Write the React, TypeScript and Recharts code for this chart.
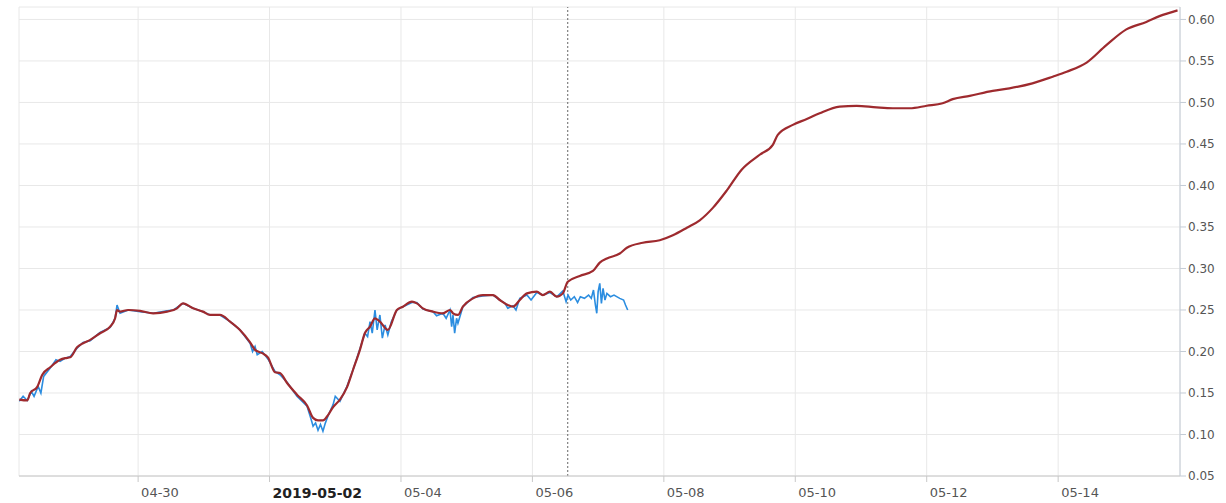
import React from "react";
import {
  CartesianGrid,
  Line,
  LineChart,
  ReferenceLine,
  XAxis,
  YAxis,
} from "recharts";

// hours since 2019-04-28 00:00
const redHours = [
  4.6, 7.5, 8.6, 11.1, 13, 15.9, 19.5, 21.4, 23.2, 25.7, 27.9, 30.5, 34.1, 37.8,
  39.6, 40.3, 41.4, 44.4, 48.7, 53.5, 58.6, 62.2, 64.4, 68.1, 71.7, 74.3, 77.9,
  81.6, 85.2, 88.9, 90.7, 93.3, 95.4, 98, 99.8, 102.4, 106, 109.7, 111.9, 113.7,
  115.5, 117.3, 119.2, 121.7, 124.3, 126.5, 129, 130.8, 132.7, 134.5, 136.3,
  139.2, 142.5, 144.7, 148, 149.8, 152, 155.7, 159.3, 161.9, 163, 164.8, 166.6,
  170.3, 173.9, 177.6, 180.1, 183, 184.9, 187.4, 190, 193.6, 195.8, 198.4,
  200.9, 203.1, 204.9, 209.3, 214.1, 216.6, 219.2, 223.9, 226.5, 232.3, 238.5,
  243.3, 248.4, 253.1, 257.9, 263, 268.4, 275, 279.8, 281.6, 287.1, 292.2,
  296.9, 304.2, 310.4, 317.7, 323.6, 329.8, 336, 341.8, 345.5, 351.7, 360.1,
  366.2, 374.6, 382, 387.1, 394.4, 401.6, 408.9, 416.2, 421, 427.6,
];
const redValues = [
  0.142, 0.141, 0.15, 0.157, 0.172, 0.181, 0.19, 0.192, 0.193, 0.205, 0.21,
  0.214, 0.222, 0.23, 0.24, 0.25, 0.248, 0.25, 0.249, 0.246, 0.248, 0.252,
  0.258, 0.252, 0.248, 0.244, 0.244, 0.236, 0.226, 0.211, 0.202, 0.198, 0.193,
  0.175, 0.174, 0.162, 0.148, 0.135, 0.12, 0.117, 0.117, 0.123, 0.133, 0.142,
  0.157, 0.178, 0.202, 0.222, 0.23, 0.24, 0.236, 0.226, 0.25, 0.254, 0.26,
  0.258, 0.252, 0.248, 0.246, 0.25, 0.246, 0.244, 0.254, 0.264, 0.268, 0.268,
  0.262, 0.256, 0.254, 0.262, 0.27, 0.272, 0.268, 0.272, 0.266, 0.27, 0.284,
  0.291, 0.297, 0.307, 0.312, 0.318, 0.325, 0.331, 0.334, 0.34, 0.349, 0.358,
  0.373, 0.394, 0.419, 0.437, 0.449, 0.461, 0.473, 0.48, 0.487, 0.495, 0.496,
  0.494, 0.493, 0.493, 0.496, 0.499, 0.504, 0.508, 0.514, 0.517, 0.523, 0.531,
  0.537, 0.548, 0.569, 0.588, 0.597, 0.604, 0.611,
];

const blueHours = [
  4.6, 6, 7.5, 9, 10, 11.5, 12.5, 13.5, 15.9, 18, 19.5, 21.4, 23.2, 25.7, 27.9,
  30.5, 34.1, 37.8, 39.6, 40.3, 41.4, 44.4, 48.7, 53.5, 58.6, 61, 62.2, 64.4,
  68.1, 71.7, 74.3, 77.9, 81.6, 85.2, 88.9, 89.8, 90.7, 91.5, 93.3, 95.4, 98,
  99.8, 102.4, 106, 109.7, 111.2, 111.9, 112.8, 113.7, 114.6, 115.5, 116.4,
  117.3, 119.2, 120, 121.7, 124.3, 126.5, 129, 130.8, 131.8, 132.7, 133.5,
  134.5, 135.3, 136.3, 137.2, 138.2, 139.2, 140.5, 142.5, 144.7, 148, 149.8,
  152, 155.7, 157, 159.3, 160.5, 161.9, 162.5, 163, 163.6, 164.3, 164.8, 166.6,
  170.3, 173.9, 177.6, 180.1, 182, 183, 184.9, 186, 187.4, 190, 191.5, 193.6,
  195.8, 198.4, 200.9, 203.1, 204.3, 205, 206, 207.3, 208.5, 209.5, 211, 212.5,
  213.5, 214.3, 215, 215.5, 216, 216.6, 217.2, 217.8, 218.5, 219.2, 220.5,
  221.8, 223.9, 225.3, 226, 226.8,
];
const blueValues = [
  0.14, 0.146, 0.141, 0.152, 0.146, 0.158, 0.15, 0.17, 0.18, 0.19, 0.188,
  0.192, 0.194, 0.204, 0.211, 0.213, 0.223, 0.229, 0.24, 0.256, 0.246, 0.25,
  0.248, 0.246, 0.249, 0.25, 0.253, 0.258, 0.252, 0.248, 0.244, 0.244, 0.236,
  0.226, 0.21, 0.2, 0.206, 0.196, 0.2, 0.191, 0.176, 0.172, 0.163, 0.146, 0.134,
  0.118, 0.11, 0.114, 0.105, 0.112, 0.104, 0.114, 0.122, 0.136, 0.146, 0.14,
  0.158, 0.178, 0.203, 0.222, 0.218, 0.236, 0.222, 0.25, 0.226, 0.244, 0.216,
  0.232, 0.22, 0.236, 0.25, 0.254, 0.259, 0.259, 0.251, 0.248, 0.243, 0.246,
  0.24, 0.25, 0.23, 0.244, 0.222, 0.24, 0.234, 0.254, 0.265, 0.267, 0.268,
  0.262, 0.258, 0.252, 0.255, 0.25, 0.264, 0.268, 0.262, 0.271, 0.268, 0.271,
  0.266, 0.273, 0.26, 0.268, 0.262, 0.266, 0.259, 0.266, 0.264, 0.268, 0.264,
  0.274, 0.256, 0.246, 0.272, 0.282, 0.258, 0.276, 0.262, 0.27, 0.266, 0.268,
  0.264, 0.262, 0.256, 0.25,
];

const xTicks = [48, 96, 144, 192, 240, 288, 336, 384];
const xTickLabels = ["04-30", "2019-05-02", "05-04", "05-06", "05-08", "05-10", "05-12", "05-14"];
const yTicks = [0.05, 0.1, 0.15, 0.2, 0.25, 0.3, 0.35, 0.4, 0.45, 0.5, 0.55, 0.6];
const nowHour = 204.9;

const redData = redHours.map((h, i) => ({ h, v: redValues[i] }));
const blueData = blueHours.map((h, i) => ({ h, v: blueValues[i] }));

const XTick = ({ x, y, payload }: any) => {
  const idx = xTicks.indexOf(payload.value);
  const bold = idx === 1;
  return (
    <text
      x={x + 3}
      y={y + 4}
      dy="0.71em"
      textAnchor="start"
      fill={bold ? "#222" : "#555"}
      fontSize={bold ? 14 : 13}
      fontWeight={bold ? "bold" : "normal"}
      fontFamily="DejaVu Sans"
    >
      {xTickLabels[idx]}
    </text>
  );
};

export default function App() {
  return (
    <div style={{ position: "absolute", left: 0, top: 0 }}>
      <LineChart
        width={1226}
        height={503}
        margin={{ top: 7, right: 0, left: 19, bottom: 0 }}
      >
        <CartesianGrid stroke="#e8e8e8" />
        <XAxis
          dataKey="h"
          type="number"
          domain={[4.5, 428.5]}
          ticks={xTicks}
          allowDataOverflow
          height={27}
          stroke="#c8c8c8"
          tickSize={6}
          tick={<XTick />}
        />
        <YAxis
          type="number"
          orientation="right"
          domain={[0.05, 0.615]}
          ticks={yTicks}
          allowDataOverflow
          width={46}
          stroke="#c4ccd6"
          tickSize={6}
          tick={{ fill: "#555", fontSize: 12, fontFamily: "DejaVu Sans" }}
          tickFormatter={(v: number) => v.toFixed(2)}
        />
        <ReferenceLine x={nowHour} stroke="#666" strokeDasharray="2 2" />
        <Line
          data={blueData}
          dataKey="v"
          type="linear"
          stroke="#2b8de0"
          strokeWidth={1.6}
          dot={false}
          isAnimationActive={false}
        />
        <Line
          data={redData}
          dataKey="v"
          type="monotone"
          stroke="#9e2a2e"
          strokeWidth={2.2}
          dot={false}
          isAnimationActive={false}
        />
      </LineChart>
    </div>
  );
}
